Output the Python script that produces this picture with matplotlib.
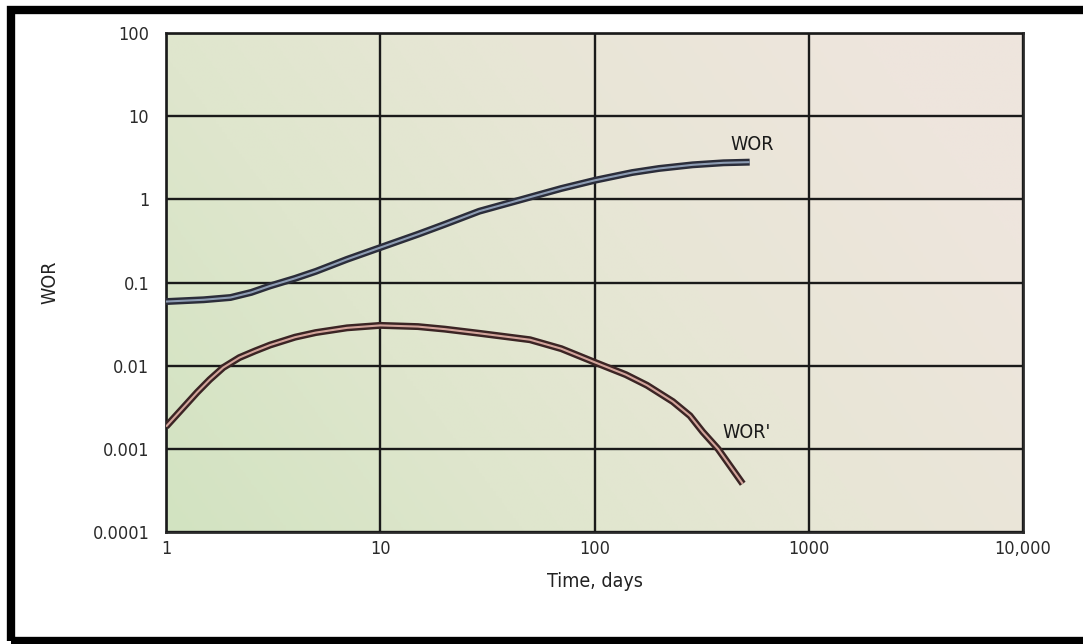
import numpy as np
import matplotlib
matplotlib.use('Agg')
import matplotlib.pyplot as plt
import matplotlib.patches as patches
from matplotlib.colors import LinearSegmentedColormap
from matplotlib import ticker

plt.rcParams['font.family'] = ['DejaVu Sans']
plt.rcParams['font.stretch'] = 'condensed'

# WOR curve (water-oil ratio) vs time
wor_days = [1, 1.5, 2, 2.5, 3.06, 4, 5, 7, 10, 15, 20, 29, 46, 70, 101, 150, 200, 287, 400, 530]
wor_vals = [0.059, 0.062, 0.066, 0.076, 0.091, 0.112, 0.136, 0.19, 0.263, 0.38, 0.5,
            0.72, 1.0, 1.35, 1.7, 2.1, 2.35, 2.6, 2.75, 2.8]

# WOR' curve (derivative)
wor_d_days = [1, 1.2, 1.4, 1.6, 1.85, 2.2, 2.6, 3.06, 4, 5, 7, 10, 15, 20, 29, 50, 70,
              101, 140, 176, 232, 279, 320, 377, 430, 492]
wor_d_vals = [0.00185, 0.0031, 0.0048, 0.0068, 0.0095, 0.0125, 0.015, 0.0177, 0.022,
              0.025, 0.0285, 0.0305, 0.0295, 0.0275, 0.0245, 0.0205, 0.016, 0.0109,
              0.0078, 0.0058, 0.0037, 0.0025, 0.0016, 0.001, 0.00062, 0.00038]

x_ticks = [1, 10, 100, 1000, 10000]
x_labels = ['1', '10', '100', '1000', '10,000']
y_ticks = [0.0001, 0.001, 0.01, 0.1, 1, 10, 100]
y_labels = ['0.0001', '0.001', '0.01', '0.1', '1', '10', '100']

W, H = 1083, 644
fig = plt.figure(figsize=(W / 100, H / 100), dpi=100)
fig.patch.set_facecolor('white')
ax = fig.add_axes([166 / W, 1 - 532 / H, (1023 - 166) / W, (532 - 33) / H])

ax.set_xscale('log')
ax.set_yscale('log')
ax.set_xlim(1, 10000)
ax.set_ylim(0.0001, 100)

# soft green-to-beige background
cmap = LinearSegmentedColormap.from_list('bg', ['#d2e3c1', '#dfe6cd', '#e8e6d6', '#eee5dd'])
gx, gy = np.meshgrid(np.linspace(0, 1, 300), np.linspace(0, 1, 200))
grad = np.clip(0.8 * gx + 0.35 * gy, 0, 1)
ax.imshow(grad, cmap=cmap, extent=[0, 1, 0, 1], transform=ax.transAxes,
          aspect='auto', origin='lower', zorder=0, vmin=0, vmax=1)

ax.xaxis.set_major_locator(ticker.FixedLocator(x_ticks))
ax.xaxis.set_major_formatter(ticker.FixedFormatter(x_labels))
ax.yaxis.set_major_locator(ticker.FixedLocator(y_ticks))
ax.yaxis.set_major_formatter(ticker.FixedFormatter(y_labels))
ax.xaxis.set_minor_locator(ticker.NullLocator())
ax.yaxis.set_minor_locator(ticker.NullLocator())
ax.tick_params(length=0, labelsize=13, colors='#2a2a2a')
ax.tick_params(axis='x', pad=6)
ax.tick_params(axis='y', pad=12)

ax.grid(True, color='#1a1a1a', linewidth=1.7, zorder=1)
ax.set_axisbelow(False)
for s in ax.spines.values():
    s.set_color('#2a2a2a')
    s.set_linewidth(2)

# double-stroke curves
ax.plot(wor_days, wor_vals, color='#2b2d3a', linewidth=5, solid_capstyle='butt',
        solid_joinstyle='round', zorder=3)
ax.plot(wor_days, wor_vals, color='#8d9cb3', linewidth=1.5, solid_capstyle='butt',
        solid_joinstyle='round', zorder=4)
ax.plot(wor_d_days, wor_d_vals, color='#3b2424', linewidth=5, solid_capstyle='butt',
        solid_joinstyle='round', zorder=3)
ax.plot(wor_d_days, wor_d_vals, color='#d3a49b', linewidth=1.5, solid_capstyle='butt',
        solid_joinstyle='round', zorder=4)

ax.text(545, 4.6, 'WOR', fontsize=14, ha='center', va='center', color='#1a1a1a', zorder=5)
ax.text(395, 0.00159, "WOR'", fontsize=14, ha='left', va='center', color='#1a1a1a', zorder=5)

ax.set_xlabel('Time, days', fontsize=14, labelpad=10, color='#222222')
ax.set_ylabel('WOR', fontsize=14, labelpad=24, color='#222222')

# black frame around the figure
frame = patches.Rectangle((11 / W, 3 / H), 1.05, (634 - 3) / H, transform=fig.transFigure,
                          fill=False, edgecolor='black', linewidth=6, zorder=10)
fig.patches.append(frame)

fig.savefig('out.png', dpi=100)
